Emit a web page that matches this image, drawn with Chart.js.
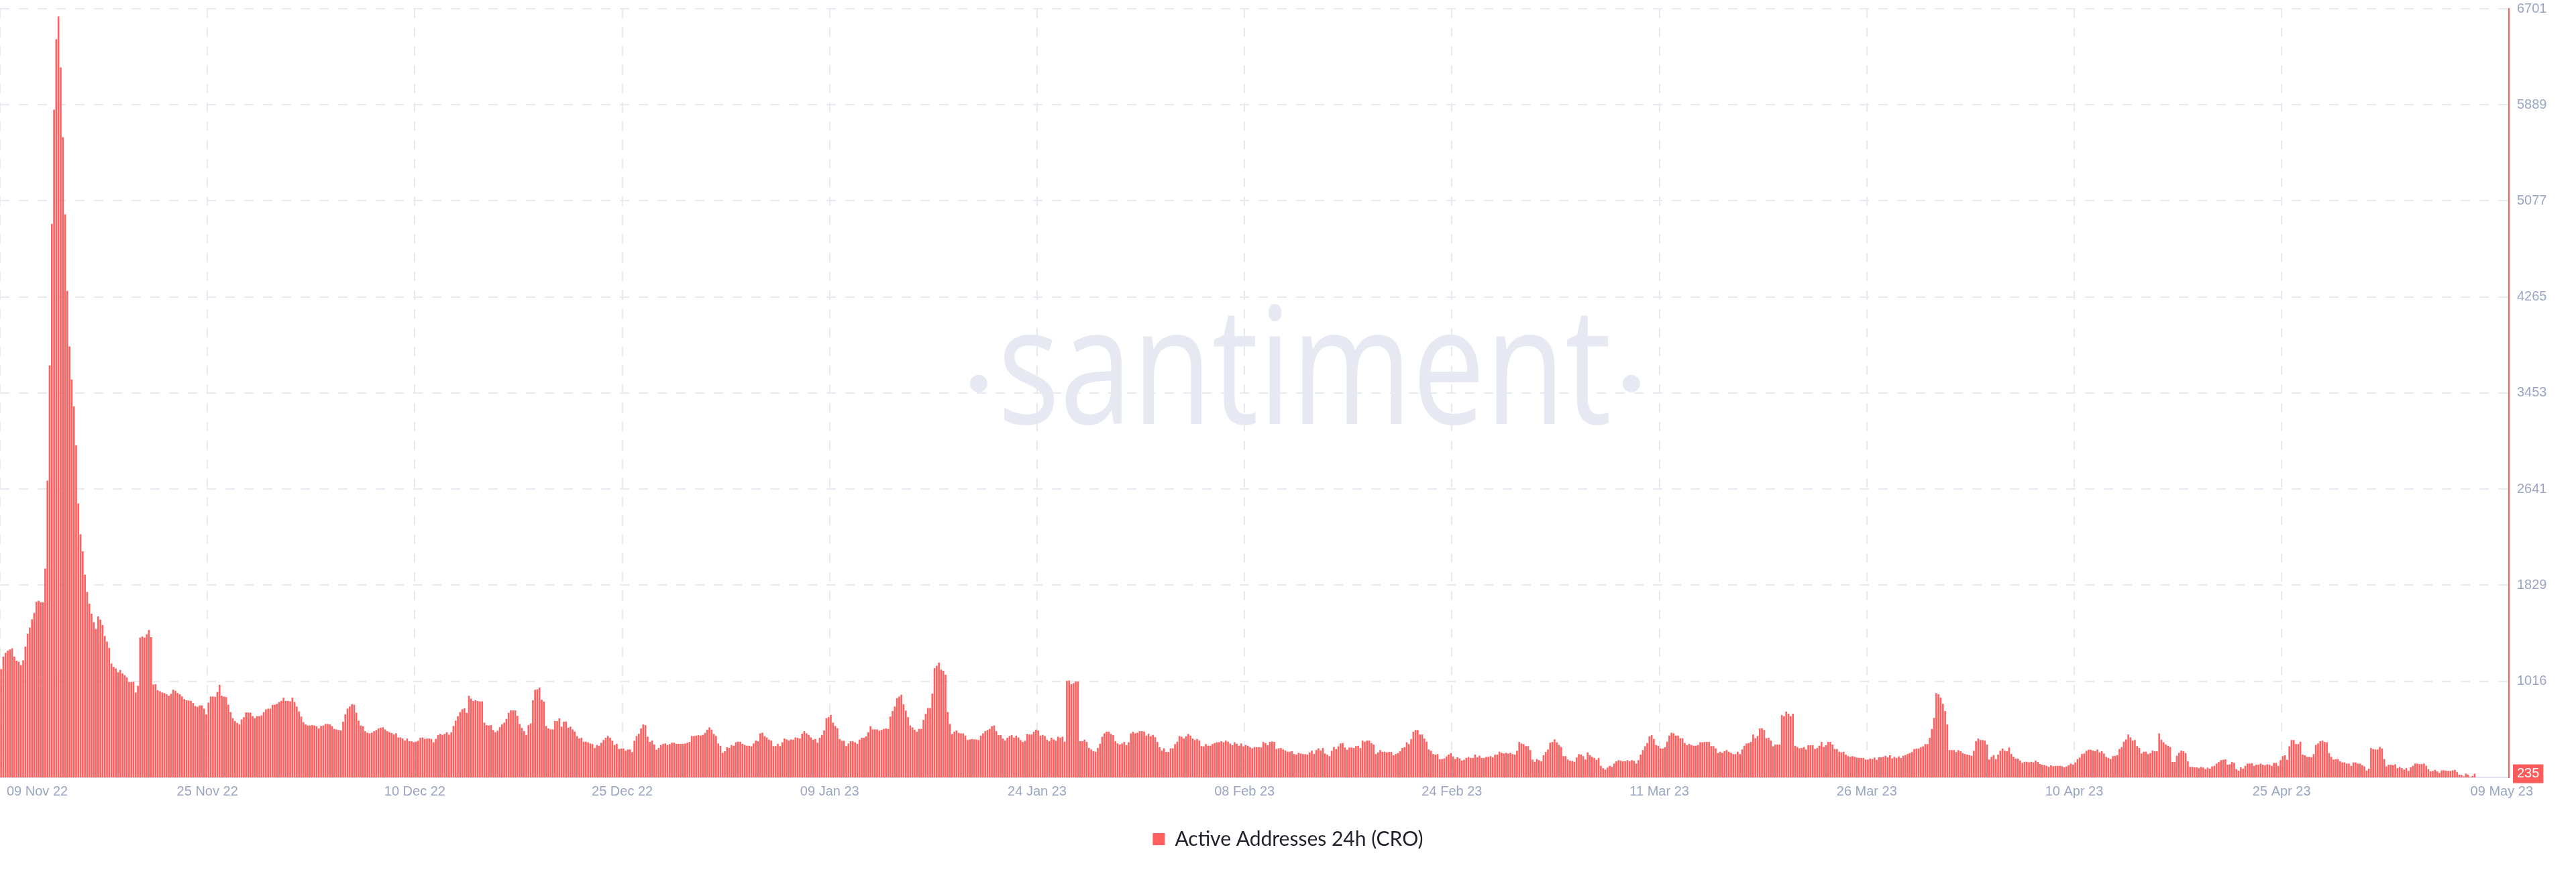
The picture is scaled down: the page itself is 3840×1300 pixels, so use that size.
<!DOCTYPE html>
<html>
<head>
<meta charset="utf-8">
<title>Active Addresses 24h (CRO)</title>
<script src="https://cdn.jsdelivr.net/npm/chart.js"></script>
<style>
  html, body { margin: 0; padding: 0; background: #fff; }
  canvas { display: block; }
</style>
</head>
<body>
<canvas id="addrChart" width="3840" height="1300"></canvas>
<script>
// 4-hour slots, 09 Nov 22 -> 09 May 23
const activeAddresses = [
  1119, 1225, 1257, 1276, 1285, 1295, 1225, 1191, 1182, 1153, 1193, 1310, 1418, 1471, 1541, 1594, 1688, 1698, 1683, 1683, 1970,
  2713, 3687, 4883, 5848, 6443, 6636, 6205, 5615, 4963, 4316, 3847, 3568, 3341, 3012, 2520, 2259, 2115, 1917,
  1771, 1673, 1588, 1516, 1459, 1565, 1537, 1493, 1399, 1352, 1299, 1166, 1138, 1125, 1093, 1112, 1083, 1068, 1049, 1011, 1011, 1011,
  921, 979, 1386, 1395, 1386, 1414, 1450, 1389,
  989, 992, 941, 932, 922, 917, 907, 894, 911, 945, 936, 917, 907, 888, 866, 856, 854, 851, 832, 807, 800, 813, 813, 785, 737, 837, 888, 888, 885, 926, 987,
  894, 888, 883, 819, 756, 705, 681, 665, 652, 694, 713, 753, 753, 751, 722, 705, 722, 722, 728, 756, 779, 785, 785, 817, 819, 826, 841, 851, 879, 851, 851, 847, 879, 841, 803,
  762, 718, 671, 652, 643, 643, 646, 643, 637, 618, 639, 643, 656, 656, 652, 637, 614, 610, 605, 601, 675, 737, 785, 803, 822, 819, 751, 684, 643, 637, 595, 582, 576, 582, 595, 605, 618, 624, 628, 610, 595, 586, 580, 567,
  576, 542, 542, 533, 516, 533, 510, 510, 501, 506,
  514, 539, 542, 529, 533, 533, 529, 501, 529, 561,
  573, 563, 573, 586, 565, 586, 639, 684, 722, 756,
  780, 788, 750, 894, 869, 850, 856, 850, 847, 847,
  667, 646, 643, 646, 605, 586, 599, 629, 652, 667,
  699, 750, 771, 769, 771, 724, 656, 622, 595, 563,
  646, 661, 856, 945, 949, 964, 860, 845, 639, 618,
  610, 610, 680, 680, 703, 633, 675, 677, 624, 633,
  610, 591, 554, 533, 539, 506, 506, 501, 491, 486,
  453, 478, 472, 497, 520, 539, 554, 539, 514, 478,
  488, 444, 448, 448, 429, 440, 440, 418, 514, 554,
  573, 618, 652, 646, 548, 504, 516, 482, 438, 453,
  478, 488, 491, 478, 486, 497, 497, 488, 488, 488,
  488, 491, 497, 504, 554, 554, 557, 561, 557, 563,
  580, 608, 627, 608, 571, 554, 491, 472, 412, 425,
  459, 453, 478, 472, 501, 506, 506, 488, 478, 472,
  472, 467, 491, 516, 510, 576, 582, 554, 542, 523,
  516, 469, 469, 488, 469, 501, 533, 525, 516, 525,
  522, 542, 539, 533, 573, 595, 576, 563, 542, 523,
  529, 497, 539, 563, 601, 705, 714, 733, 667, 639,
  620, 529, 514, 514, 469, 491, 510, 510, 501, 488,
  523, 539, 539, 552, 586, 637, 610, 610, 610, 599,
  606, 614, 618, 614, 718, 765, 803, 873, 888, 903,
  822, 769, 714, 643, 627, 608, 590, 614,
  614, 690, 741, 790, 790, 913, 1128, 1147, 1175, 1115,
  1105, 1072, 756, 656, 571, 591, 601, 580, 576, 576,
  557, 520, 525, 529, 525, 525, 520, 557, 576, 595,
  605, 614, 637, 643, 595, 561, 561, 533, 516, 539,
  554, 561, 539, 557, 542, 520, 504, 514, 571, 567,
  567, 590, 608, 601, 557, 563, 554, 523, 510, 539,
  525, 514, 548, 539, 548, 506, 1020, 1024, 992, 1001,
  1015, 1015, 510, 510, 523, 504, 453, 440, 425, 421,
  453, 488, 548, 576, 590, 591, 571, 561, 510, 491,
  482, 491, 504, 476, 501, 576, 590, 576, 582, 595,
  595, 591, 557, 573, 552, 563, 544, 504, 459, 431,
  450, 419, 419, 450, 450, 486, 506, 554, 548, 533,
  552, 571, 557, 533, 520, 529, 516, 469, 467, 486,
  472, 472, 486, 495, 501, 501, 510, 501, 516, 506,
  491, 476, 501, 488, 472, 491, 467, 478, 472, 459,
  450, 461, 459, 459, 457, 504, 495, 476, 504, 508,
  504, 444, 450, 453, 440, 431, 421, 421, 425, 402,
  397, 412, 406, 402, 401, 397, 416, 431, 402, 435,
  450, 431, 453, 406, 397, 384, 429, 461, 444, 467,
  491, 495, 457, 438, 457, 457, 453, 469, 472, 452,
  516, 506, 516, 516, 495, 482, 401, 416, 435, 419,
  421, 416, 419, 419, 391, 402, 410, 425, 453, 459,
  501, 486, 529, 590, 605, 605, 567, 567, 533, 506,
  440, 429, 402, 397, 401, 359, 359, 365, 382, 397,
  410, 382, 359, 374, 365, 346, 353, 369, 378, 369,
  369, 397, 374, 387, 369, 369, 378, 378, 384, 374,
  397, 397, 421, 412, 406, 412, 406, 412, 401, 397,
  429, 504, 491, 486, 469, 469, 435, 355, 336, 359,
  350, 340, 391, 419, 440, 497, 504, 525, 501, 478,
  461, 384, 384, 355, 346, 344, 336, 372, 401, 397,
  384, 355, 416, 393, 378, 369, 353, 369, 302, 283,
  270, 287, 302, 293, 321, 340, 350, 346, 340, 340,
  350, 340, 350, 344, 321, 350, 397, 435, 467, 495,
  552, 561, 529, 478, 472, 450, 448, 459, 506, 557,
  582, 576, 557, 557, 535, 535, 495, 476, 488, 478,
  472, 472, 478, 501, 501, 504, 504, 504, 469, 469,
  450, 410, 421, 412, 425, 435, 421, 412, 401, 401,
  421, 401, 440, 472, 491, 495, 504, 567, 535, 554,
  618, 620, 605, 535, 539, 516, 467, 482, 482, 482,
  731, 722, 760, 743, 722, 743, 472, 461, 450, 453,
  461, 440, 476, 476, 476, 444, 453, 472, 504, 461,
  476, 504, 504, 482, 444, 444, 421, 416, 421, 397,
  384, 378, 384, 378, 372, 369, 369, 369, 355, 355,
  363, 359, 372, 353, 374, 374, 378, 387, 374, 391,
  365, 378, 369, 382, 369, 387, 393, 402, 410, 419,
  444, 448, 448, 459, 467, 486, 486, 539, 614, 707,
  917, 907, 879, 826, 765, 652, 435, 435, 435, 419,
  435, 425, 410, 402, 397, 393, 387,
  429, 510, 533, 520, 520, 516, 482, 355, 378, 393,
  359, 397, 429, 448, 429, 425, 457, 402, 378, 363,
  363, 346, 327, 336, 336, 331, 336, 331, 346, 334,
  317, 312, 308, 302, 293, 306, 299, 302, 302, 302,
  299, 289, 297, 308, 321, 312, 331, 359, 372, 402,
  406, 429, 438, 438, 431, 425, 440, 416, 425, 406,
  378, 369, 359, 384, 387, 393, 444, 461, 506, 525,
  567, 542, 516, 520, 469, 453, 406, 421, 421, 401,
  410, 431, 425, 425, 576, 523, 501, 482, 472, 461,
  334, 334, 387, 412, 431, 425, 410, 340, 293, 293,
  289, 289, 283, 293, 287, 274, 287, 278, 297, 302,
  321, 334, 350, 353, 357, 312, 315, 334, 327, 274,
  261, 289, 278, 302, 321, 321, 325, 302, 312, 312,
  321, 312, 306, 315, 312, 302, 327, 327, 302, 350,
  384, 391, 353, 467, 520, 520, 486, 486, 506, 397,
  391, 378, 378, 374, 401, 478, 491, 510, 516, 504,
  501, 410, 378, 355, 359, 359, 340, 331, 331, 321,
  321, 302, 331, 331, 321, 321, 308, 297, 261, 278,
  453, 444, 440, 440, 461, 448, 359, 297, 312, 312,
  308, 315, 283, 293, 283, 270, 283, 259, 289, 302,
  321, 321, 317, 317, 321, 302, 274, 255, 259, 268,
  255, 242, 264, 264, 261, 259, 259, 264, 268, 249,
  227, 227, 213, 236, 227, 208, 217, 235
];

// the axis runs a little past the last reading
const totalSlots = 1137;
const slots = Array.from({ length: totalSlots }, (_, i) => i);

const xTickLabels = [
  '09 Nov 22', '25 Nov 22', '10 Dec 22', '25 Dec 22', '09 Jan 23', '24 Jan 23', '08 Feb 23',
  '24 Feb 23', '11 Mar 23', '26 Mar 23', '10 Apr 23', '25 Apr 23', '09 May 23'
];
const tickEvery = 94; // slots between date ticks

const yMin = 204;
const yMax = 6701;
const yTicks = [1016, 1829, 2641, 3453, 4265, 5077, 5889, 6701];
const lastValue = activeAddresses[activeAddresses.length - 1];

const barColor = '#ff5f5f';
const gridColor = '#e8eaf2';
const tickColor = '#9aa5c1';
const tickFont = '"Liberation Sans", Arial, sans-serif';

const watermark = {
  id: 'watermark',
  beforeDraw(chart) {
    const { ctx, chartArea: a } = chart;
    const cx = a.left + a.width * 0.52;
    const base = a.top + a.height * 0.54;
    ctx.save();
    ctx.fillStyle = '#e7e9f2';
    ctx.font = '243px "Open Sans"';
    ctx.textAlign = 'center';
    ctx.textBaseline = 'alphabetic';
    const word = 'santiment';
    const w = ctx.measureText(word).width;
    ctx.translate(cx, base);
    ctx.scale(915 / w, 1);
    ctx.fillText(word, 0, 0);
    ctx.restore();

    ctx.save();
    ctx.fillStyle = '#e7e9f2';
    [-486, 487].forEach(dx => {
      ctx.beginPath();
      ctx.arc(cx + dx, base - 60, 13, 0, Math.PI * 2);
      ctx.fill();
    });
    ctx.restore();
  }
};

const dateLabels = {
  id: 'dateLabels',
  afterDraw(chart) {
    const { ctx, chartArea: a, scales } = chart;
    const x = scales.x;
    const step = x.getPixelForValue(1) - x.getPixelForValue(0);
    ctx.save();
    ctx.font = '20px ' + tickFont;
    ctx.fillStyle = tickColor;
    ctx.textAlign = 'center';
    ctx.textBaseline = 'middle';
    xTickLabels.forEach((text, k) => {
      const w = ctx.measureText(text).width;
      let px = k < xTickLabels.length - 1 ? a.left + k * tickEvery * step : a.right;
      px = Math.max(px, a.left + 10 + w / 2);
      px = Math.min(px, a.right + 36 - w / 2);
      ctx.fillText(text, px, a.bottom + 21);
    });
    ctx.restore();
  }
};

const ctx = document.getElementById('addrChart').getContext('2d');
const addrChart = new Chart(ctx, {
  type: 'bar',
  data: {
    labels: slots,
    datasets: [{
      label: 'Active Addresses 24h (CRO)',
      data: activeAddresses,
      backgroundColor: barColor,
      borderWidth: 0,
      barPercentage: 0.8,
      categoryPercentage: 1
    }]
  },
  options: {
    responsive: false,
    animation: false,
    devicePixelRatio: 1,
    layout: { padding: { top: 13, bottom: 24, left: 0, right: 0 } },
    plugins: {
      legend: {
        position: 'bottom',
        labels: {
          boxWidth: 18,
          boxHeight: 18,
          padding: 20,
          color: '#1f2029',
          font: { family: 'Lato', size: 30 }
        }
      },
      tooltip: { enabled: false }
    },
    scales: {
      x: {
        offset: true,
        grid: {
          offset: true,
          drawTicks: false,
          lineWidth: 2,
          color: (c) => (c.index % tickEvery === 0 && c.index / tickEvery < xTickLabels.length - 1) ? gridColor : 'transparent'
        },
        border: { color: '#e0e4ee', width: 2, dash: [14, 14] },
        ticks: { display: false, autoSkip: false },
        afterFit: (scale) => {
          scale.height = 57;
          scale.paddingLeft = 0;
          scale.paddingRight = 0;
        }
      },
      y: {
        position: 'right',
        min: yMin,
        max: yMax,
        afterBuildTicks: (scale) => {
          scale.ticks = [lastValue, ...yTicks].map(v => ({ value: v }));
        },
        grid: {
          drawTicks: false,
          lineWidth: 2,
          color: (c) => (c.tick && c.tick.value === lastValue) ? 'transparent' : gridColor
        },
        border: { color: '#ff5b5b', width: 2, dash: [14, 14] },
        ticks: {
          padding: 12,
          font: { family: 'Liberation Sans', size: 20 },
          color: (c) => (c.tick && c.tick.value === lastValue) ? '#ffffff' : tickColor,
          showLabelBackdrop: (c) => !!(c.tick && c.tick.value === lastValue),
          backdropColor: '#ff5b5b',
          backdropPadding: { x: 6, y: 2 },
          callback: (v) => String(v)
        },
        afterFit: (scale) => {
          scale.width = 100;
          scale.paddingTop = 0;
          scale.paddingBottom = 0;
        }
      }
    }
  },
  plugins: [watermark, dateLabels]
});
</script>
</body>
</html>
